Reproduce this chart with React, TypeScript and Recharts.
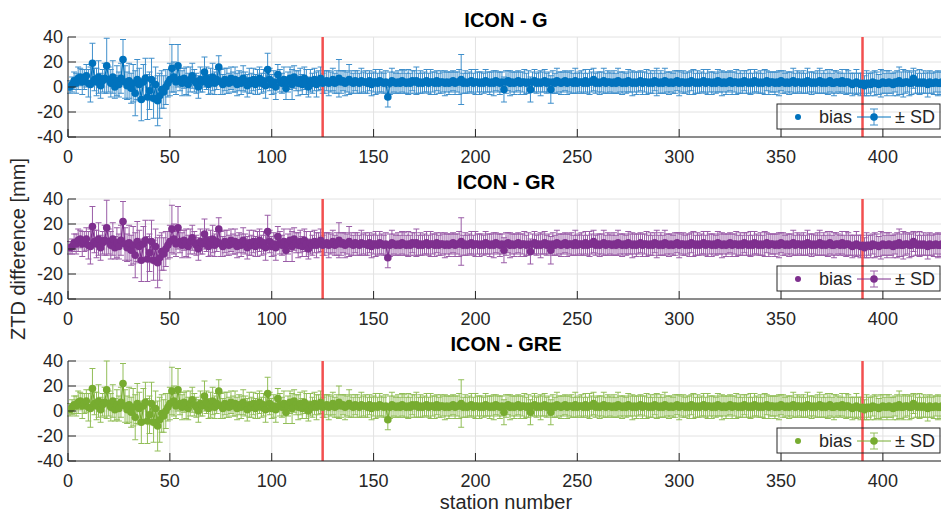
import React from "react";
import {
  ComposedChart,
  Scatter,
  ErrorBar,
  XAxis,
  YAxis,
  CartesianGrid,
  ReferenceLine,
} from "recharts";

// station axis, tick values and the two network boundaries
const xTicks = [0, 50, 100, 150, 200, 250, 300, 350, 400];
const yTicks = [-40, -20, 0, 20, 40];
const boundaries = [125, 390];
const titles = ["ICON - G", "ICON - GR", "ICON - GRE"];

// ICON - G : bias and SD per station [mm]
const biasG = [
  0, 2, 5, 3, 7, 8, 4, 6, 9, 3, 2, 19, 6, 4, 8, 1, 5, 7, 17, 6,
  3, 8, 0, 5, 2, 7, 22, 4, 1, 5, -1, 3, -5, 6, 2, -10, 4, 7, -8, -3,
  6, -9, 2, -11, -7, -2, -4, 0, 3, 6, 15, 8, 4, 17, 6, 3, 7, 5, 2, 6,
  9, 5, 3, 0, 6, 4, 12, 7, 2, 5, 8, 3, 6, 16, 4, 2, 6, 5, 3, 7,
  4, 6, 2, 5, 3, 7, 4, 1, 5, 3, 6, 2, 4, 7, 3, 5, 1, 14, 6, 2,
  4, 0, 10, 5, 3, 6, -1, 4, 7, 2, 8, 5, 3, 6, 2, 7, 4, 0, 5, 3,
  6, 2, 5, 7, 3, 4, 5, 3, 4, 6, 3, 4, 7, 4, 5, 3, 4, 6, 4, 3,
  5, 4, 3, 5, 4, 4, 3, 5, 2, 4, 4, 3, 5, 4, 3, 4, -8, 3, 5, 4,
  3, 4, 3, 5, 4, 3, 4, 3, 5, 4, 5, 3, 4, 3, 4, 5, 3, 4, 4, 3,
  5, 3, 4, 4, 3, 4, 3, 4, 5, 3, 4, 4, 6, 3, 4, 3, 4, 5, 3, 4,
  4, 3, 4, 3, 5, 4, 3, 4, 3, 5, 4, 3, 4, -2, 4, 5, 3, 4, 3, 4,
  5, 3, 4, 4, 3, 4, -2, 4, 5, 3, 4, 3, 4, 5, 3, 4, -2, 4, 3, 5,
  4, 3, 4, 5, 3, 4, 4, 3, 5, 3, 4, 4, 3, 5, 3, 4, 4, 6, 3, 4,
  3, 4, 5, 3, 4, 4, 3, 4, 3, 5, 4, 3, 4, 3, 5, 4, 3, 4, 3, 4,
  5, 3, 4, 4, 3, 4, 3, 5, 4, 3, 4, 3, 5, 4, 3, 4, 3, 4, 5, 3,
  4, 4, 3, 4, 3, 5, 4, 3, 4, 3, 4, 5, 3, 4, 4, 3, 4, 3, 5, 4,
  3, 4, 3, 4, 5, 3, 4, 4, 3, 4, 3, 5, 4, 3, 4, 3, 5, 4, 3, 4,
  3, 4, 5, 3, 4, 4, 3, 4, 3, 5, 4, 3, 4, 3, 4, 5, 3, 4, 4, 3,
  4, 3, 5, 4, 3, 4, 3, 4, 5, 3, 4, 3, 4, 5, 3, 3, 4, 4, 3, 5,
  3, 4, 4, 3, 2, 3, 4, 3, 2, 3, 1, 3, 3, 2, 4, 3, 3, 2, 3, 4,
  3, 3, 4, 3, 2, 4, 3, 5, 3, 3, 4, 4, 3, 3, 7, 4, 3, 4, 3, 4,
  3, 2, 4, 3, 3, 4, 3, 3, 4, 3,
];
const sdG = [
  5, 6, 7, 8, 9, 7, 10, 8, 9, 11, 14, 16, 9, 11, 13, 10, 9, 12, 22, 10,
  11, 13, 9, 12, 10, 12, 16, 13, 11, 14, 12, 15, 18, 16, 13, 17, 14, 16, 18, 15,
  17, 16, 14, 20, 18, 15, 13, 14, 11, 13, 19, 12, 10, 17, 9, 10, 8, 11, 9, 10,
  10, 9, 8, 9, 10, 8, 12, 9, 8, 10, 11, 9, 8, 9, 10, 8, 9, 10, 8, 9,
  8, 10, 9, 8, 9, 10, 8, 9, 10, 8, 9, 8, 10, 9, 8, 9, 10, 13, 9, 8,
  9, 10, 8, 9, 8, 10, 9, 8, 9, 12, 9, 8, 10, 9, 8, 9, 10, 8, 9, 8,
  9, 10, 8, 9, 8, 9, 8, 10, 8, 9, 8, 9, 15, 9, 8, 10, 8, 12, 9, 8,
  8, 9, 8, 10, 8, 9, 8, 8, 9, 8, 10, 8, 9, 8, 8, 9, 8, 9, 10, 8,
  8, 9, 8, 9, 9, 8, 10, 8, 8, 9, 11, 8, 9, 8, 8, 9, 8, 10, 8, 9,
  8, 8, 9, 8, 10, 8, 9, 8, 8, 9, 8, 10, 20, 8, 9, 8, 8, 9, 8, 10,
  8, 9, 8, 8, 9, 8, 9, 8, 10, 8, 8, 9, 8, 10, 9, 8, 10, 8, 9, 8,
  8, 9, 8, 10, 8, 9, 10, 8, 9, 8, 8, 10, 8, 9, 8, 8, 11, 9, 8, 10,
  8, 9, 8, 8, 9, 8, 9, 8, 10, 8, 8, 9, 8, 9, 8, 10, 8, 9, 8, 8,
  9, 8, 10, 8, 9, 8, 8, 9, 8, 10, 8, 9, 8, 8, 9, 8, 10, 8, 9, 8,
  8, 9, 8, 10, 8, 9, 8, 8, 11, 8, 9, 8, 10, 8, 9, 8, 8, 9, 8, 10,
  8, 9, 8, 8, 9, 8, 10, 8, 9, 8, 8, 9, 8, 10, 8, 9, 8, 8, 9, 8,
  10, 8, 9, 8, 8, 9, 8, 10, 8, 9, 8, 8, 9, 8, 10, 8, 9, 8, 8, 9,
  8, 10, 8, 9, 8, 8, 9, 8, 10, 8, 9, 8, 8, 9, 8, 10, 8, 9, 8, 8,
  9, 8, 10, 8, 9, 8, 8, 9, 10, 8, 9, 8, 10, 9, 8, 10, 9, 8, 8, 9,
  8, 10, 9, 8, 9, 8, 10, 8, 9, 8, 8, 10, 8, 9, 8, 10, 9, 8, 11, 9,
  8, 10, 9, 8, 9, 8, 10, 11, 9, 11, 9, 8, 10, 9, 8, 9, 8, 10, 8, 9,
  8, 10, 9, 8, 9, 8, 10, 9, 8, 9,
];

// ICON - GR
const biasGR = [
  1, 2, 5, 4, 7, 8, 4, 6, 8, 3, 2, 18, 6, 4, 8, 1, 5, 7, 17, 6,
  3, 8, 1, 5, 2, 7, 22, 4, 1, 5, -1, 3, -5, 6, 2, -9, 4, 7, -8, -3,
  6, -9, 2, -11, -7, -2, -4, 0, 3, 6, 16, 8, 4, 17, 6, 3, 7, 5, 2, 6,
  9, 5, 3, 0, 6, 4, 12, 7, 2, 5, 8, 3, 6, 16, 4, 2, 6, 5, 3, 7,
  4, 6, 2, 5, 3, 7, 4, 1, 5, 3, 6, 2, 4, 7, 3, 5, 1, 14, 6, 2,
  4, 1, 10, 5, 3, 6, -1, 4, 7, 2, 8, 5, 3, 6, 2, 7, 4, 0, 5, 3,
  6, 3, 5, 7, 3, 4, 5, 3, 4, 6, 3, 4, 7, 4, 5, 3, 4, 6, 4, 3,
  5, 4, 3, 5, 4, 4, 3, 5, 2, 4, 4, 3, 5, 4, 3, 4, -7, 3, 5, 4,
  3, 4, 3, 5, 4, 3, 4, 3, 5, 4, 5, 3, 4, 3, 4, 5, 3, 4, 4, 3,
  5, 3, 4, 4, 3, 4, 3, 4, 5, 3, 4, 4, 6, 3, 4, 3, 4, 5, 3, 4,
  4, 3, 4, 3, 5, 4, 3, 4, 3, 5, 4, 3, 4, -1, 4, 5, 3, 4, 3, 4,
  5, 3, 4, 4, 3, 4, -2, 4, 5, 3, 4, 3, 4, 5, 3, 4, -1, 4, 3, 5,
  4, 3, 4, 5, 3, 4, 4, 3, 5, 3, 4, 4, 3, 5, 3, 4, 4, 6, 3, 4,
  3, 4, 5, 3, 4, 4, 3, 4, 3, 5, 4, 3, 4, 3, 5, 4, 3, 4, 3, 4,
  5, 3, 4, 4, 3, 4, 3, 5, 4, 3, 4, 3, 5, 4, 3, 4, 3, 4, 5, 3,
  4, 4, 3, 4, 3, 5, 4, 3, 4, 3, 4, 5, 3, 4, 4, 3, 4, 3, 5, 4,
  3, 4, 3, 4, 5, 3, 4, 4, 3, 4, 3, 5, 4, 3, 4, 3, 5, 4, 3, 4,
  3, 4, 5, 3, 4, 4, 3, 4, 3, 5, 4, 3, 4, 3, 4, 5, 3, 4, 4, 3,
  4, 3, 5, 4, 3, 4, 3, 4, 5, 3, 4, 3, 4, 5, 3, 3, 4, 4, 3, 5,
  3, 4, 4, 3, 2, 3, 4, 3, 2, 3, 1, 3, 3, 2, 4, 3, 3, 2, 3, 4,
  3, 3, 4, 3, 2, 4, 3, 5, 3, 3, 4, 4, 3, 3, 6, 4, 3, 4, 3, 4,
  3, 2, 4, 3, 3, 4, 3, 3, 4, 3,
];
const sdGR = [
  5, 6, 7, 8, 9, 7, 10, 8, 9, 11, 14, 16, 9, 11, 13, 10, 9, 12, 22, 10,
  11, 13, 9, 12, 10, 12, 16, 13, 11, 14, 12, 15, 18, 16, 13, 17, 14, 16, 18, 15,
  17, 16, 14, 20, 18, 15, 13, 14, 11, 13, 19, 12, 10, 17, 9, 10, 8, 11, 9, 10,
  10, 9, 8, 9, 10, 8, 12, 9, 8, 10, 11, 9, 8, 9, 10, 8, 9, 10, 8, 9,
  8, 10, 9, 8, 9, 10, 8, 9, 10, 8, 9, 8, 10, 9, 8, 9, 10, 13, 9, 8,
  9, 10, 8, 9, 8, 10, 9, 8, 9, 12, 9, 8, 10, 9, 8, 9, 10, 8, 9, 8,
  9, 10, 8, 9, 8, 9, 8, 10, 8, 9, 8, 9, 14, 9, 8, 10, 8, 12, 9, 8,
  8, 9, 8, 10, 8, 9, 8, 8, 9, 8, 10, 8, 9, 8, 8, 9, 8, 9, 10, 8,
  8, 9, 8, 9, 9, 8, 10, 8, 8, 9, 11, 8, 9, 8, 8, 9, 8, 10, 8, 9,
  8, 8, 9, 8, 10, 8, 9, 8, 8, 9, 8, 10, 19, 8, 9, 8, 8, 9, 8, 10,
  8, 9, 8, 8, 9, 8, 9, 8, 10, 8, 8, 9, 8, 10, 9, 8, 10, 8, 9, 8,
  8, 9, 8, 10, 8, 9, 10, 8, 9, 8, 8, 10, 8, 9, 8, 8, 11, 9, 8, 10,
  8, 9, 8, 8, 9, 8, 9, 8, 10, 8, 8, 9, 8, 9, 8, 10, 8, 9, 8, 8,
  9, 8, 10, 8, 9, 8, 8, 9, 8, 10, 8, 9, 8, 8, 9, 8, 10, 8, 9, 8,
  8, 9, 8, 10, 8, 9, 8, 8, 11, 8, 9, 8, 10, 8, 9, 8, 8, 9, 8, 10,
  8, 9, 8, 8, 9, 8, 10, 8, 9, 8, 8, 9, 8, 10, 8, 9, 8, 8, 9, 8,
  10, 8, 9, 8, 8, 9, 8, 10, 8, 9, 8, 8, 9, 8, 10, 8, 9, 8, 8, 9,
  8, 10, 8, 9, 8, 8, 9, 8, 10, 8, 9, 8, 8, 9, 8, 10, 8, 9, 8, 8,
  9, 8, 10, 8, 9, 8, 8, 9, 10, 8, 9, 8, 10, 9, 8, 10, 9, 8, 8, 9,
  8, 10, 9, 8, 9, 8, 10, 8, 9, 8, 8, 10, 8, 9, 8, 10, 9, 8, 11, 9,
  8, 10, 9, 8, 9, 8, 10, 11, 9, 11, 9, 8, 10, 9, 8, 9, 8, 10, 8, 9,
  8, 10, 9, 8, 9, 8, 10, 9, 8, 9,
];

// ICON - GRE
const biasGRE = [
  1, 3, 5, 4, 7, 8, 4, 6, 8, 3, 2, 18, 6, 4, 8, 1, 5, 7, 17, 6,
  3, 8, 1, 5, 2, 7, 22, 4, 1, 5, -1, 3, -5, 6, 2, -9, 4, 7, -8, -3,
  6, -9, 2, -12, -7, -2, -4, 0, 3, 6, 16, 8, 4, 17, 6, 3, 7, 5, 2, 6,
  9, 5, 3, 0, 6, 4, 12, 7, 2, 5, 8, 3, 6, 16, 4, 2, 6, 5, 3, 7,
  4, 6, 2, 5, 3, 7, 4, 1, 5, 3, 6, 2, 4, 7, 3, 5, 1, 14, 6, 2,
  4, 1, 10, 5, 3, 6, -1, 4, 7, 2, 8, 5, 3, 6, 2, 7, 4, 0, 5, 3,
  6, 3, 5, 7, 3, 4, 5, 3, 4, 6, 3, 4, 7, 4, 5, 3, 4, 6, 4, 3,
  5, 4, 3, 5, 4, 4, 3, 5, 2, 4, 4, 3, 5, 4, 3, 4, -7, 3, 5, 4,
  3, 4, 3, 5, 4, 3, 4, 3, 5, 4, 5, 3, 4, 3, 4, 5, 3, 4, 4, 3,
  5, 3, 4, 4, 3, 4, 3, 4, 5, 3, 4, 4, 6, 3, 4, 3, 4, 5, 3, 4,
  4, 3, 4, 3, 5, 4, 3, 4, 3, 5, 4, 3, 4, -1, 4, 5, 3, 4, 3, 4,
  5, 3, 4, 4, 3, 4, -1, 4, 5, 3, 4, 3, 4, 5, 3, 4, -1, 4, 3, 5,
  4, 3, 4, 5, 3, 4, 4, 3, 5, 3, 4, 4, 3, 5, 3, 4, 4, 6, 3, 4,
  3, 4, 5, 3, 4, 4, 3, 4, 3, 5, 4, 3, 4, 3, 5, 4, 3, 4, 3, 4,
  5, 3, 4, 4, 3, 4, 3, 5, 4, 3, 4, 3, 5, 4, 3, 4, 3, 4, 5, 3,
  4, 4, 3, 4, 3, 5, 4, 3, 4, 3, 4, 5, 3, 4, 4, 3, 4, 3, 5, 4,
  3, 4, 3, 4, 5, 3, 4, 4, 3, 4, 3, 5, 4, 3, 4, 3, 5, 4, 3, 4,
  3, 4, 5, 3, 4, 4, 3, 4, 3, 5, 4, 3, 4, 3, 4, 5, 3, 4, 4, 3,
  4, 3, 5, 4, 3, 4, 3, 4, 5, 3, 4, 3, 4, 5, 3, 3, 4, 4, 3, 5,
  3, 4, 4, 3, 2, 3, 4, 3, 2, 3, 1, 3, 3, 2, 4, 3, 3, 2, 3, 4,
  3, 3, 4, 3, 2, 4, 3, 5, 3, 3, 4, 4, 3, 3, 6, 4, 3, 4, 3, 4,
  3, 2, 4, 3, 3, 4, 3, 3, 4, 3,
];
const sdGRE = [
  5, 6, 7, 8, 9, 7, 10, 8, 9, 11, 15, 16, 9, 11, 13, 10, 9, 12, 23, 10,
  11, 13, 9, 12, 10, 12, 16, 13, 11, 14, 12, 15, 18, 16, 13, 17, 14, 16, 18, 15,
  17, 16, 14, 20, 18, 15, 13, 14, 11, 13, 19, 12, 10, 17, 9, 10, 8, 11, 9, 10,
  10, 9, 8, 9, 10, 8, 12, 9, 8, 10, 11, 9, 8, 9, 10, 8, 9, 10, 8, 9,
  8, 10, 9, 8, 9, 10, 8, 9, 10, 8, 9, 8, 10, 9, 8, 9, 10, 13, 9, 8,
  9, 10, 8, 9, 8, 10, 9, 8, 9, 12, 9, 8, 10, 9, 8, 9, 10, 8, 9, 8,
  9, 10, 8, 9, 8, 9, 8, 10, 8, 9, 8, 9, 13, 9, 8, 10, 8, 11, 9, 8,
  8, 9, 8, 10, 8, 9, 8, 8, 9, 8, 10, 8, 9, 8, 8, 9, 8, 9, 10, 8,
  8, 9, 8, 9, 9, 8, 10, 8, 8, 9, 10, 8, 9, 8, 8, 9, 8, 10, 8, 9,
  8, 8, 9, 8, 10, 8, 9, 8, 8, 9, 8, 10, 19, 8, 9, 8, 8, 9, 8, 10,
  8, 9, 8, 8, 9, 8, 9, 8, 10, 8, 8, 9, 8, 10, 9, 8, 10, 8, 9, 8,
  8, 9, 8, 10, 8, 9, 10, 8, 9, 8, 8, 10, 8, 9, 8, 8, 10, 9, 8, 10,
  8, 9, 8, 8, 9, 8, 9, 8, 10, 8, 8, 9, 8, 9, 8, 10, 8, 9, 8, 8,
  9, 8, 10, 8, 9, 8, 8, 9, 8, 10, 8, 9, 8, 8, 9, 8, 10, 8, 9, 8,
  8, 9, 8, 10, 8, 9, 8, 8, 10, 8, 9, 8, 10, 8, 9, 8, 8, 9, 8, 10,
  8, 9, 8, 8, 9, 8, 10, 8, 9, 8, 8, 9, 8, 10, 8, 9, 8, 8, 9, 8,
  10, 8, 9, 8, 8, 9, 8, 10, 8, 9, 8, 8, 9, 8, 10, 8, 9, 8, 8, 9,
  8, 10, 8, 9, 8, 8, 9, 8, 10, 8, 9, 8, 8, 9, 8, 10, 8, 9, 8, 8,
  9, 8, 10, 8, 9, 8, 8, 9, 10, 8, 9, 8, 10, 9, 8, 10, 9, 8, 8, 9,
  8, 10, 9, 8, 9, 8, 10, 8, 9, 8, 8, 10, 8, 9, 8, 10, 9, 8, 10, 9,
  8, 10, 9, 8, 9, 8, 10, 11, 9, 10, 9, 8, 10, 9, 8, 9, 8, 10, 8, 9,
  8, 10, 9, 8, 9, 8, 10, 9, 8, 9,
];

const FONT = '"Liberation Sans", Arial, Helvetica, sans-serif';
const INK = "#262626";
const RED = "#F24F4F";
const PLOT_LEFT = 68;
const PLOT_W = 876;
const PLOT_H = 100;
const PAD_TOP = 14;
const TICK_LEN = 8;

const panels = [
  { top: 37, bias: biasG, sd: sdG, color: "#0072BD", light: "#3F8FCB" },
  { top: 199, bias: biasGR, sd: sdGR, color: "#7E2F8E", light: "#9A5DA7" },
  { top: 361, bias: biasGRE, sd: sdGRE, color: "#77AC30", light: "#92BE58" },
];

function BottomTick({ x, y, payload }: any) {
  return (
    <g>
      <line x1={x} x2={x} y1={y} y2={y - TICK_LEN} stroke={INK} />
      <text x={x} y={y + 20} textAnchor="middle" dominantBaseline="central" fontSize={18} fontFamily={FONT} fill={INK}>
        {payload.value}
      </text>
    </g>
  );
}

function TopTick({ x, y }: any) {
  return <line x1={x} x2={x} y1={y} y2={y + TICK_LEN} stroke={INK} />;
}

function LeftTick({ x, y, payload }: any) {
  return (
    <g>
      <line x1={x} x2={x + TICK_LEN} y1={y} y2={y} stroke={INK} />
      <text x={x - 5} y={y} textAnchor="end" dominantBaseline="central" fontSize={18} fontFamily={FONT} fill={INK}>
        {payload.value}
      </text>
    </g>
  );
}

function RightTick({ x, y }: any) {
  return <line x1={x} x2={x - TICK_LEN} y1={y} y2={y} stroke={INK} />;
}

function Panel({ top, bias, sd, color, light }: any) {
  const data = bias.map((b: number, i: number) => ({ station: i + 1, bias: b, sd: sd[i] }));
  return (
    <div style={{ position: "absolute", left: 0, top: top - PAD_TOP }}>
      <ComposedChart
        width={PLOT_LEFT + PLOT_W + 16}
        height={PLOT_H + PAD_TOP + 30}
        data={data}
        margin={{ top: PAD_TOP, right: 16, bottom: 0, left: 0 }}
      >
        <CartesianGrid stroke="#E2E2E2" />
        <XAxis
          xAxisId={0}
          dataKey="station"
          type="number"
          domain={[0, 430]}
          ticks={xTicks}
          interval={0}
          allowDataOverflow
          height={30}
          tickSize={0}
          tickMargin={0}
          tickLine={false}
          axisLine={{ stroke: INK }}
          tick={<BottomTick />}
        />
        <XAxis
          xAxisId="top"
          orientation="top"
          type="number"
          domain={[0, 430]}
          ticks={xTicks}
          interval={0}
          allowDataOverflow
          height={0}
          tickSize={0}
          tickMargin={0}
          tickLine={false}
          axisLine={{ stroke: INK }}
          tick={<TopTick />}
        />
        <YAxis
          yAxisId={0}
          type="number"
          domain={[-40, 40]}
          ticks={yTicks}
          interval={0}
          allowDataOverflow
          width={PLOT_LEFT}
          tickSize={0}
          tickMargin={0}
          tickLine={false}
          axisLine={{ stroke: INK }}
          tick={<LeftTick />}
        />
        <YAxis
          yAxisId="r"
          orientation="right"
          type="number"
          domain={[-40, 40]}
          ticks={yTicks}
          interval={0}
          allowDataOverflow
          width={0}
          tickSize={0}
          tickMargin={0}
          tickLine={false}
          axisLine={{ stroke: INK }}
          tick={<RightTick />}
        />
        <Scatter
          xAxisId={0}
          yAxisId={0}
          dataKey="bias"
          fill={color}
          isAnimationActive={false}
          line={{ stroke: color, strokeWidth: 1.2 }}
          shape={(p: any) => <circle cx={p.cx} cy={p.cy} r={3.8} fill={color} />}
        >
          <ErrorBar dataKey="sd" direction="y" width={3} stroke={light} strokeWidth={1} isAnimationActive={false} />
        </Scatter>
        {boundaries.map((b) => (
          <ReferenceLine key={b} xAxisId={0} yAxisId={0} x={b} stroke={RED} strokeWidth={2.5} />
        ))}
      </ComposedChart>
    </div>
  );
}

function Legend({ top, color, light }: any) {
  const cy = top + 80;
  return (
    <g>
      <rect x={777} y={top + 67} width={163} height={25} fill="none" stroke={INK} strokeWidth={1} />
      <circle cx={798} cy={cy} r={3} fill={color} />
      <text x={819} y={cy} dominantBaseline="central" fontSize={18} fontFamily={FONT} fill={INK}>bias</text>
      <line x1={857} x2={891} y1={cy} y2={cy} stroke={color} />
      <line x1={874} x2={874} y1={cy - 8} y2={cy + 8} stroke={light} />
      <line x1={870} x2={878} y1={cy - 8} y2={cy - 8} stroke={light} />
      <line x1={870} x2={878} y1={cy + 8} y2={cy + 8} stroke={light} />
      <circle cx={874} cy={cy} r={3.8} fill={color} />
      <text x={895} y={cy} dominantBaseline="central" fontSize={18} fontFamily={FONT} fill={INK}>± SD</text>
    </g>
  );
}

export default function App() {
  const mid = PLOT_LEFT + PLOT_W / 2;
  return (
    <div
      style={{
        position: "absolute",
        left: 0,
        top: 0,
        width: 941,
        height: 515,
        overflow: "hidden",
        background: "#fff",
        fontFamily: FONT,
      }}
    >
      {panels.map((p) => (
        <Panel key={p.top} {...p} />
      ))}
      <svg width={941} height={515} style={{ position: "absolute", left: 0, top: 0, pointerEvents: "none" }}>
        {panels.map((p, i) => (
          <g key={p.top}>
            <text x={mid} y={p.top - 17} textAnchor="middle" dominantBaseline="central" fontSize={20} fontWeight="bold" fontFamily={FONT} fill="#000">
              {titles[i]}
            </text>
            <Legend top={p.top} color={p.color} light={p.light} />
          </g>
        ))}
        <text x={mid} y={502} textAnchor="middle" dominantBaseline="central" fontSize={20} fontFamily={FONT} fill={INK}>
          station number
        </text>
        <text
          x={18}
          y={249}
          textAnchor="middle"
          dominantBaseline="central"
          fontSize={20}
          fontFamily={FONT}
          fill={INK}
          transform="rotate(-90 18 249)"
        >
          ZTD difference [mm]
        </text>
      </svg>
    </div>
  );
}
